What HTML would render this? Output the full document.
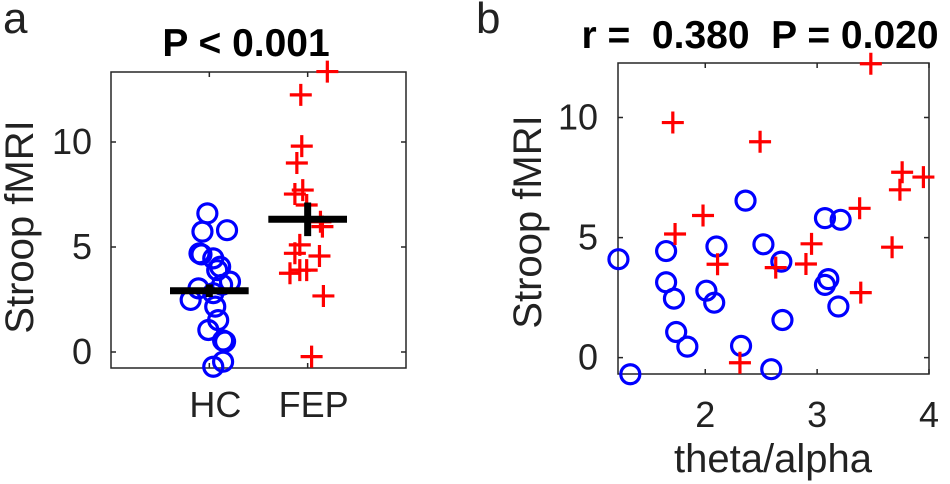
<!DOCTYPE html>
<html><head><meta charset="utf-8"><style>
html,body{margin:0;padding:0;background:#fff;}
svg{display:block;font-family:"Liberation Sans",Arial,sans-serif;}
</style></head><body>
<svg id="fig" width="950" height="484" viewBox="0 0 950 484" xmlns="http://www.w3.org/2000/svg">
<text x="3" y="33" font-size="44" fill="#222">a</text>
<text x="476" y="33" font-size="44" fill="#222">b</text>
<text x="246" y="56" font-size="39" font-weight="bold" text-anchor="middle" fill="#000">P &lt; 0.001</text>
<text x="760" y="48" font-size="39" font-weight="bold" text-anchor="middle" fill="#000" xml:space="preserve" style="white-space:pre">r =  0.380  P = 0.020</text>
<text transform="translate(33,227) rotate(-90)" font-size="40" text-anchor="middle" fill="#222">Stroop fMRI</text>
<text transform="translate(541,222) rotate(-90)" font-size="40" text-anchor="middle" fill="#222">Stroop fMRI</text>
<text x="773" y="472" font-size="40" text-anchor="middle" fill="#222">theta/alpha</text>
<g id="ga"></g>
<g id="gb"></g>
</svg>
<script>
// Panel a data
const groupNames = ["HC", "FEP"];
const hcJitter = [-0.02,-0.07,0.18,-0.10,-0.08,0.04,0.11,0.08,0.21,-0.11,0.04,-0.19,0.06,0.09,-0.01,0.16,0.14,0.14,0.04,0.13];
const hcValues = [6.6,5.73,5.8,4.7,4.65,4.46,4.06,3.9,3.35,3.03,2.8,2.48,2.16,1.52,1.05,0.5,0.55,-0.46,-0.7,3.2];
const fepJitter = [0.2,-0.07,-0.06,-0.11,-0.05,-0.13,-0.01,0.15,-0.08,-0.13,0.12,-0.18,-0.08,-0.01,0.16,0.04,0.13];
const fepValues = [13.35,12.24,9.8,9.0,7.71,7.52,7.0,5.97,5.1,4.7,4.57,3.75,3.9,3.9,2.67,-0.22,6.2];
const groupMeans = [2.92, 6.32];
const groupErr = [0.3, 0.8];
const aYTicks = [0,5,10];
// Panel b data
const hcTheta = [1.224,1.33,1.65,1.65,1.72,1.74,1.84,2.01,2.08,2.10,2.32,2.36,2.52,2.68,2.69,2.59,3.07,3.10,3.07,3.21,3.19];
const hcStroop = [4.10,-0.69,4.44,3.14,2.46,1.07,0.46,2.79,2.29,4.63,0.49,6.54,4.72,4.0,1.57,-0.48,3.03,3.27,5.81,5.74,2.13];
const fepTheta = [1.71,1.73,1.98,2.11,2.31,2.49,2.63,2.90,2.95,3.38,3.39,3.48,3.67,3.74,3.76,3.95];
const fepStroop = [9.79,5.15,5.92,3.89,-0.21,8.99,3.75,3.90,4.74,6.22,2.71,12.24,4.6,6.99,7.72,7.52];
const bXTicks = [2,3,4];
const bYTicks = [0,5,10];

const NS="http://www.w3.org/2000/svg";
function mk(parent,tag,attrs){const e=document.createElementNS(NS,tag);for(const k in attrs)e.setAttribute(k,attrs[k]);parent.appendChild(e);return e;}
function circle(g,x,y){const c=mk(g,'circle',{cx:x,cy:y,r:9.5,fill:'none',stroke:'#0000ff','stroke-width':3.2});

}
function cross(g,x,y){const p=mk(g,'path',{d:`M${x-11},${y}H${x+11}M${x},${y-11}V${y+11}`,stroke:'#ff0000','stroke-width':3.2,fill:'none'});

}

// Panel a axes
const A={l:111,r:406,t:72,b:368,x0:0,x1:3,y0:-0.76,y1:13.33};
const ax=v=>A.l+(v-A.x0)/(A.x1-A.x0)*(A.r-A.l);
const ay=v=>A.b-(v-A.y0)/(A.y1-A.y0)*(A.b-A.t);
const ga=document.getElementById('ga');
const fa=mk(ga,'rect',{x:A.l,y:A.t,width:A.r-A.l,height:A.b-A.t,fill:'none',stroke:'#262626','stroke-width':1.5});


aYTicks.forEach(t=>{const y=ay(t);
 mk(ga,'path',{d:`M${A.l},${y}h5M${A.r},${y}h-5`,stroke:'#262626','stroke-width':1.5});
 const tx=mk(ga,'text',{x:92,y:y+12,'font-size':36,'text-anchor':'end',fill:'#222'});tx.textContent=t;
 
 });
groupNames.forEach((n,i)=>{const x=ax(i+1);
 mk(ga,'path',{d:`M${x},${A.t}v5M${x},${A.b}v-5`,stroke:'#262626','stroke-width':1.5});
 const tx=mk(ga,'text',{x:x+6,y:417,'font-size':36,'text-anchor':'middle',fill:'#222'});tx.textContent=n;
 
 });
hcValues.forEach((v,i)=>circle(ga,ax(1+hcJitter[i]),ay(v)));
fepValues.forEach((v,i)=>cross(ga,ax(2+fepJitter[i]),ay(v)));
groupMeans.forEach((m,i)=>{const x=ax(i+1),y=ay(m);
 const p=mk(ga,'path',{d:`M${ax(i+1-0.4)},${y}H${ax(i+1+0.4)}M${x},${ay(m-groupErr[i])}V${ay(m+groupErr[i])}`,stroke:'#000','stroke-width':7,fill:'none'});
 
 });

// Panel b axes
const B={l:618,r:929,t:63,b:374,x0:1.22,x1:4.0,y0:-0.68,y1:12.27};
const bx=v=>B.l+(v-B.x0)/(B.x1-B.x0)*(B.r-B.l);
const by=v=>B.b-(v-B.y0)/(B.y1-B.y0)*(B.b-B.t);
const gb=document.getElementById('gb');
const fb=mk(gb,'rect',{x:B.l,y:B.t,width:B.r-B.l,height:B.b-B.t,fill:'none',stroke:'#262626','stroke-width':1.5});


bYTicks.forEach(t=>{const y=by(t);
 mk(gb,'path',{d:`M${B.l},${y}h5M${B.r},${y}h-5`,stroke:'#262626','stroke-width':1.5});
 const tx=mk(gb,'text',{x:598,y:y+12,'font-size':36,'text-anchor':'end',fill:'#222'});tx.textContent=t;
 
 });
bXTicks.forEach(t=>{const x=bx(t);
 mk(gb,'path',{d:`M${x},${B.t}v5M${x},${B.b}v-5`,stroke:'#262626','stroke-width':1.5});
 const tx=mk(gb,'text',{x:x,y:427,'font-size':36,'text-anchor':'middle',fill:'#222'});tx.textContent=t;
 
 });
hcTheta.forEach((v,i)=>circle(gb,bx(v),by(hcStroop[i])));
fepTheta.forEach((v,i)=>cross(gb,bx(v),by(fepStroop[i])));
</script>
</body></html>
